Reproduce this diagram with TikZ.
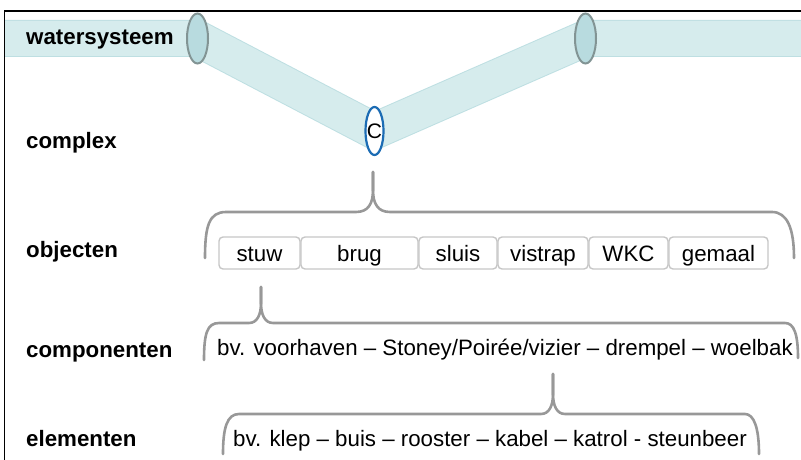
\documentclass[tikz,border=0pt]{standalone}
\usepackage{fontspec}
\setmainfont{Liberation Sans}
\usetikzlibrary{shapes.geometric}

\definecolor{bandfill}{RGB}{214,236,237}
\definecolor{bandedge}{RGB}{190,223,226}
\definecolor{knotfill}{RGB}{184,219,223}
\definecolor{knotedge}{RGB}{130,148,148}
\definecolor{cblue}{RGB}{28,108,180}
\definecolor{bracegray}{RGB}{152,152,152}
\definecolor{boxgray}{RGB}{198,198,198}

\newcommand{\txtfont}{\fontsize{22.3}{26}\selectfont}
\newcommand{\knotfont}{\fontsize{21}{24}\selectfont}

\tikzset{
  level/.style={anchor=base west, inner sep=0pt, font=\txtfont\bfseries},
  knot/.style={ellipse, draw=knotedge, fill=knotfill, line width=2pt,
    minimum width=21pt, minimum height=50pt, inner sep=0pt},
  cknot/.style={ellipse, draw=cblue, fill=white, line width=2.2pt,
    minimum width=18pt, minimum height=48pt, inner sep=0pt},
  knottext/.style={inner sep=0pt, font=\knotfont},
  objbox/.style={draw=boxgray, line width=1.4pt, rounded corners=4pt,
    minimum height=32pt, inner sep=0pt, text height=18pt, text depth=2pt,
    font=\txtfont},
  brace/.style={draw=bracegray, line width=2.6pt, line cap=round, line join=round},
  example/.style={anchor=base, inner sep=0pt, font=\txtfont},
}

\begin{document}
\begin{tikzpicture}[x=1pt, y=-1pt]
  \useasboundingbox (0,0) rectangle (801,460);

  % water system band, drawn under its knots
  \coordinate (bandL) at (5,38.5);
  \coordinate (bandR) at (801,38.5);
  \coordinate (p1) at (197.5,38.5);
  \coordinate (pc) at (374.5,131);
  \coordinate (p2) at (585.5,38.5);
  \draw[bandedge, line width=37pt, line join=miter]
    (bandL) -- (p1) -- (pc) -- (p2) -- (bandR);
  \draw[bandfill, line width=35pt, line join=miter]
    (bandL) -- (p1) -- (pc) -- (p2) -- (bandR);

  % knots on the band
  \node[knot] (k1) at (p1) {};
  \node[knot] (k2) at (p2) {};
  \node[cknot] (C) at (pc) {};
  \node[knottext] (Ctext) at (C.center) {C};

  % frame
  \draw[line width=1.6pt] (4.5,460) -- (4.5,11) -- (801,11);

  % level names
  \node[level] (lw) at (26,45) {watersysteem};
  \node[level] (lc) at (26,148.5) {complex};
  \node[level] (lo) at (26,257) {objecten};
  \node[level] (lk) at (26,357) {componenten};
  \node[level] (le) at (26,446) {elementen};

  % objects
  \node[objbox, minimum width=81pt]  (stuw)    at (259.5,253) {stuw};
  \node[objbox, minimum width=117pt] (brug)    at (359.5,253) {brug};
  \node[objbox, minimum width=78pt]  (sluis)   at (458,253)   {sluis};
  \node[objbox, minimum width=90pt]  (vistrap) at (543,253)   {vistrap};
  \node[objbox, minimum width=79pt]  (wkc)     at (628.5,253) {WKC};
  \node[objbox, minimum width=99pt]  (gemaal)  at (718.5,253) {gemaal};

  % examples
  \node[example] (comp) at (505,355)
    {bv. voorhaven – Stoney/Poirée/vizier – drempel – woelbak};
  \node[example] (elem) at (490,446)
    {bv. klep – buis – rooster – kabel – katrol - steunbeer};

  % brace: complex -> objects
  \coordinate (t1) at (373,172);
  \draw[brace] (205,258) .. controls (205,226) and (209,212) .. (226,212)
    -- (356,212) .. controls (368,212) and (373,204) .. (373,190) -- (t1);
  \draw[brace] (t1) -- (373,190) .. controls (373,204) and (378,212) .. (390,212)
    -- (772,212) .. controls (787,212) and (794,228) .. (794,258);

  % brace: stuw -> components
  \coordinate (t2) at (261,287);
  \draw[brace] (204,360) .. controls (204,334) and (207,323) .. (219,323)
    -- (249,323) .. controls (257,323) and (261,315) .. (261,303) -- (t2);
  \draw[brace] (t2) -- (261,303) .. controls (261,315) and (265,323) .. (273,323)
    -- (785,323) .. controls (794,323) and (798,334) .. (798,358);

  % brace: components -> elements
  \coordinate (t3) at (553,374);
  \draw[brace] (223,454) .. controls (223,428) and (227,414) .. (239,414)
    -- (541,414) .. controls (549,414) and (553,406) .. (553,394) -- (t3);
  \draw[brace] (t3) -- (553,394) .. controls (553,406) and (557,414) .. (565,414)
    -- (745,414) .. controls (754,414) and (759,428) .. (759,454);
\end{tikzpicture}
\end{document}
